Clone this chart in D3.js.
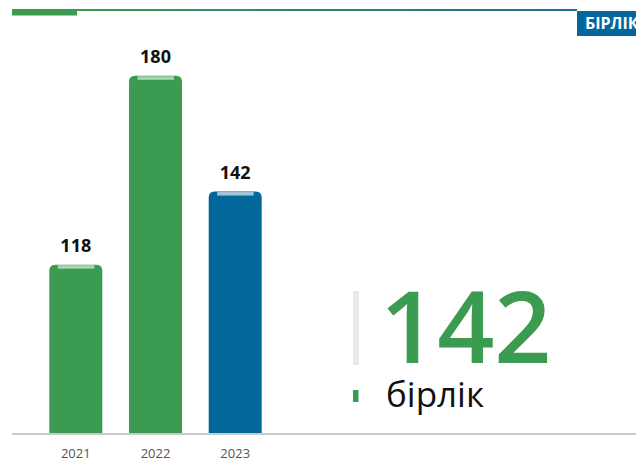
<!DOCTYPE html>
<html><head><meta charset="utf-8">
<script src="https://cdn.jsdelivr.net/npm/d3@7"></script>
<style>
html,body{margin:0;padding:0;background:#fff;overflow:hidden;}
svg{display:block;}
</style></head>
<body>
<script>
const years = ["2021", "2022", "2023"];
const values = [118, 180, 142];
const barColors = ["#3b9b50", "#3b9b50", "#03679b"];
const highlightColors = ["#a9d4b2", "#a9d4b2", "#a7c5d8"];
const headline = "142";
const unitLabel = "бірлік";
const tagLabel = "БІРЛІК";

const W = 636, H = 461;
const svg = d3.select("body").append("svg").attr("width", W).attr("height", H);

const defs = svg.append("defs");
const grad = defs.append("linearGradient").attr("id", "topGrad").attr("x1", "0%").attr("x2", "100%");
grad.append("stop").attr("offset", "0%").attr("stop-color", "#3c9a52");
grad.append("stop").attr("offset", "100%").attr("stop-color", "#1c7090");

// header decorations
svg.append("rect").attr("x", 77).attr("y", 9).attr("width", 500).attr("height", 2).attr("fill", "url(#topGrad)");
svg.append("rect").attr("x", 12).attr("y", 9).attr("width", 65).attr("height", 6.5).attr("fill", "#3b9b50");
svg.append("rect").attr("x", 577).attr("y", 11).attr("width", 70).attr("height", 25).attr("fill", "#03679b");
svg.append("text").attr("x", 585).attr("y", 29).text(tagLabel)
  .attr("font-family", "'Open Sans', sans-serif").attr("font-weight", 700)
  .attr("font-size", 16).attr("fill", "#fff");

const baseline = 434;
const xb = d3.scalePoint().domain(years).range([49.3, 49.3 + 79.7 * 2]);
const bw = 53;
const y = d3.scaleLinear().domain([62.4, 180.6]).range([baseline, 74]);

const r = 6;
function barPath(x0, y0, w, h) {
  return `M${x0},${y0 + h} L${x0},${y0 + r} Q${x0},${y0} ${x0 + r},${y0} L${x0 + w - r},${y0} Q${x0 + w},${y0} ${x0 + w},${y0 + r} L${x0 + w},${y0 + h} Z`;
}

const g = svg.append("g");
years.forEach((yr, i) => {
  const x0 = xb(yr), y0 = y(values[i]);
  g.append("path").attr("d", barPath(x0, y0, bw, baseline - y0)).attr("fill", barColors[i]);
  g.append("rect").attr("x", x0 + 8.5).attr("y", y0 + 0.5).attr("width", bw - 16.5).attr("height", 3.5)
    .attr("fill", highlightColors[i]);
  g.append("text").attr("x", x0 + bw / 2).attr("y", y0 - 13).attr("text-anchor", "middle")
    .text(values[i]).attr("font-family", "'Open Sans', sans-serif").attr("font-weight", 700)
    .attr("font-size", 18).attr("fill", "#111");
  g.append("text").attr("x", x0 + bw / 2).attr("y", 458).attr("text-anchor", "middle")
    .text(yr).attr("font-family", "'Open Sans', sans-serif").attr("font-size", 13).attr("fill", "#555");
});

// axis line
svg.append("rect").attr("x", 12).attr("y", 433).attr("width", W - 12).attr("height", 2).attr("fill", "#c9cbca");

// headline block
svg.append("rect").attr("x", 353).attr("y", 291).attr("width", 6).attr("height", 74).attr("fill", "#e7e8e7");
svg.append("rect").attr("x", 353).attr("y", 390).attr("width", 5.5).attr("height", 12).attr("fill", "#3b9b50");
svg.append("text").attr("x", 380).attr("y", 363).text(headline)
  .attr("font-family", "'Open Sans', sans-serif").attr("font-weight", 600)
  .attr("font-size", 100).attr("fill", "#3b9b50");
svg.append("text").attr("x", 386).attr("y", 407).text(unitLabel)
  .attr("font-family", "'Open Sans', sans-serif").attr("font-size", 35).attr("fill", "#111");
</script>
</body></html>
